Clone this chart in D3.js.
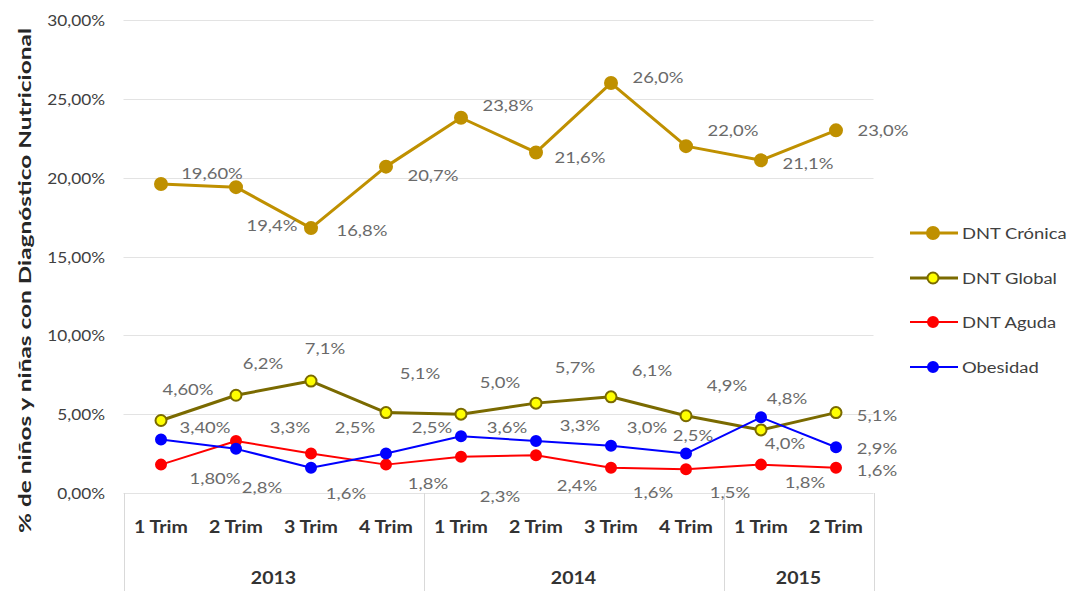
<!DOCTYPE html>
<html><head><meta charset="utf-8">
<script src="https://cdn.jsdelivr.net/npm/d3@7/dist/d3.min.js"></script>
<style>
html,body{margin:0;padding:0;background:#fff;}
svg{display:block;}
text{font-family:Lato,"Open Sans",sans-serif;}
</style></head>
<body>
<svg id="chart" width="1069" height="591"></svg>
<script>
// ---------- data ----------
const categories = ["1 Trim","2 Trim","3 Trim","4 Trim","1 Trim","2 Trim","3 Trim","4 Trim","1 Trim","2 Trim"];
const years = ["2013","2014","2015"];
const yearCounts = [4,4,2];
const yTicks = [0,5,10,15,20,25,30];
const seriesNames = ["DNT Crónica","DNT Global","DNT Aguda","Obesidad"];
const cronica = [19.6,19.4,16.8,20.7,23.8,21.6,26.0,22.0,21.1,23.0];
const globalDNT = [4.6,6.2,7.1,5.1,5.0,5.7,6.1,4.9,4.0,5.1];
const aguda = [1.8,3.3,2.5,1.8,2.3,2.4,1.6,1.5,1.8,1.6];
const obesidad = [3.4,2.8,1.6,2.5,3.6,3.3,3.0,2.5,4.8,2.9];

// ---------- layout (label offsets in px from their point) ----------
const cronicaLabelOff = [[51,-11],[36,38],[51,2],[47,8],[47,-13],[44,5],[47,-6],[47,-16],[47,3],[47,0]];
const globalLabelOff = [[27,-32],[27,-32],[14,-33],[34,-40],[39,-32],[39,-36],[41,-27],[41,-31],[24,13],[41,2]];
const agudaLabelOff = [[54,13],[54,-14],[44,-27],[42,18],[39,39],[41,30],[42,24],[44,23],[44,17],[41,2]];
const obesidadLabelOff = [[44,-12],[26,38],[35,25],[46,-27],[46,-9],[44,-16],[36,-19],[7,-19],[26,-19],[41,1]];

(function(){
const SX = 1.15; // horizontal text stretch
const svg = d3.select("#chart");
const pLeft = 123.5, pRight = 873.5, pTop = 20, pBottom = 493;

const keys = categories.map((c,i)=>i);
const x = d3.scaleBand().domain(keys).range([pLeft,pRight]);
const cx = i => x(i) + x.bandwidth()/2;
const y = d3.scaleLinear().domain([0,30]).range([pBottom,pTop]);

function stext(g, px, py, str){
  return g.append("text")
    .attr("transform", `translate(${px},${py}) scale(${SX},1)`)
    .text(str);
}

// gridlines
const grid = svg.append("g");
grid.selectAll("line").data(yTicks).join("line")
  .attr("x1", pLeft).attr("x2", pRight)
  .attr("y1", d=>Math.round(y(d))+0.5).attr("y2", d=>Math.round(y(d))+0.5)
  .attr("stroke", "#E3E3E3").attr("stroke-width", 1);

// y tick labels
const yt = svg.append("g");
yTicks.forEach(t=>{
  stext(yt, 105, y(t), d3.format(".2f")(t).replace(".",",")+"%")
    .attr("text-anchor","end").attr("dominant-baseline","central")
    .attr("font-size",15).attr("fill","#404040");
});

// y title
svg.append("text")
  .attr("transform", `translate(24,${(28+533)/2}) rotate(-90)`)
  .attr("text-anchor","middle").attr("dominant-baseline","central")
  .attr("font-size",17).attr("font-weight","bold").attr("fill","#262626")
  .attr("textLength",505).attr("lengthAdjust","spacingAndGlyphs")
  .text("% de niños y niñas con Diagnóstico Nutricional");

// category axis
const ax = svg.append("g");
const bounds = [0];
yearCounts.forEach((c,i)=>bounds.push(bounds[i]+c));
bounds.forEach(b=>{
  const bx = Math.round(pLeft + b*x.step()) + 0.5;
  ax.append("line").attr("x1",bx).attr("x2",bx).attr("y1",pBottom).attr("y2",591)
    .attr("stroke","#D9D9D9").attr("stroke-width",1);
});
categories.forEach((c,i)=>{
  stext(ax, cx(i), 527, c).attr("text-anchor","middle").attr("dominant-baseline","central")
    .attr("font-size",17).attr("font-weight","bold").attr("fill","#333");
});
years.forEach((yr,i)=>{
  const mid = pLeft + (bounds[i]+bounds[i+1])/2*x.step();
  stext(ax, mid, 578, yr).attr("text-anchor","middle").attr("dominant-baseline","central")
    .attr("font-size",17).attr("font-weight","bold").attr("fill","#333");
});

// series
const series = [
  {name:seriesNames[0], values:cronica, off:cronicaLabelOff, line:"#BF9000", lw:3, fill:"#BF9000", stroke:"#BF9000", r:6},
  {name:seriesNames[1], values:globalDNT, off:globalLabelOff, line:"#7A6A00", lw:3, fill:"#FFFF00", stroke:"#7A6A00", r:5.5},
  {name:seriesNames[2], values:aguda, off:agudaLabelOff, line:"#FF0000", lw:2, fill:"#FF0000", stroke:"#FF0000", r:5},
  {name:seriesNames[3], values:obesidad, off:obesidadLabelOff, line:"#0000FF", lw:2, fill:"#0000FF", stroke:"#0000FF", r:5}
];
const lineGen = d3.line().x((d,i)=>cx(i)).y(d=>y(d));
series.forEach(s=>{
  const g = svg.append("g");
  g.append("path").attr("d", lineGen(s.values)).attr("fill","none")
    .attr("stroke", s.line).attr("stroke-width", s.lw).attr("stroke-linejoin","round");
  g.selectAll("circle").data(s.values).join("circle")
    .attr("cx",(d,i)=>cx(i)).attr("cy",d=>y(d)).attr("r",s.r)
    .attr("fill",s.fill).attr("stroke",s.stroke).attr("stroke-width",2);
});
// labels
const lg = svg.append("g");
series.forEach(s=>{
  s.values.forEach((v,i)=>{
    const txt = d3.format(i===0?".2f":".1f")(v).replace(".",",")+"%";
    stext(lg, cx(i)+s.off[i][0], y(v)+s.off[i][1], txt)
      .attr("text-anchor","middle").attr("dominant-baseline","central")
      .attr("font-size",16).attr("fill","#6A6A6A");
  });
});

// legend
const leg = svg.append("g");
const legY = [233,278,322,367];
series.forEach((s,i)=>{
  leg.append("line").attr("x1",910).attr("x2",958).attr("y1",legY[i]).attr("y2",legY[i])
    .attr("stroke",s.line).attr("stroke-width",s.lw);
  leg.append("circle").attr("cx",933).attr("cy",legY[i]).attr("r",s.r)
    .attr("fill",s.fill).attr("stroke",s.stroke).attr("stroke-width",2);
  stext(leg, 962, legY[i], s.name).attr("dominant-baseline","central")
    .attr("font-size",16).attr("fill","#404040");
});
})();
</script>
</body></html>
